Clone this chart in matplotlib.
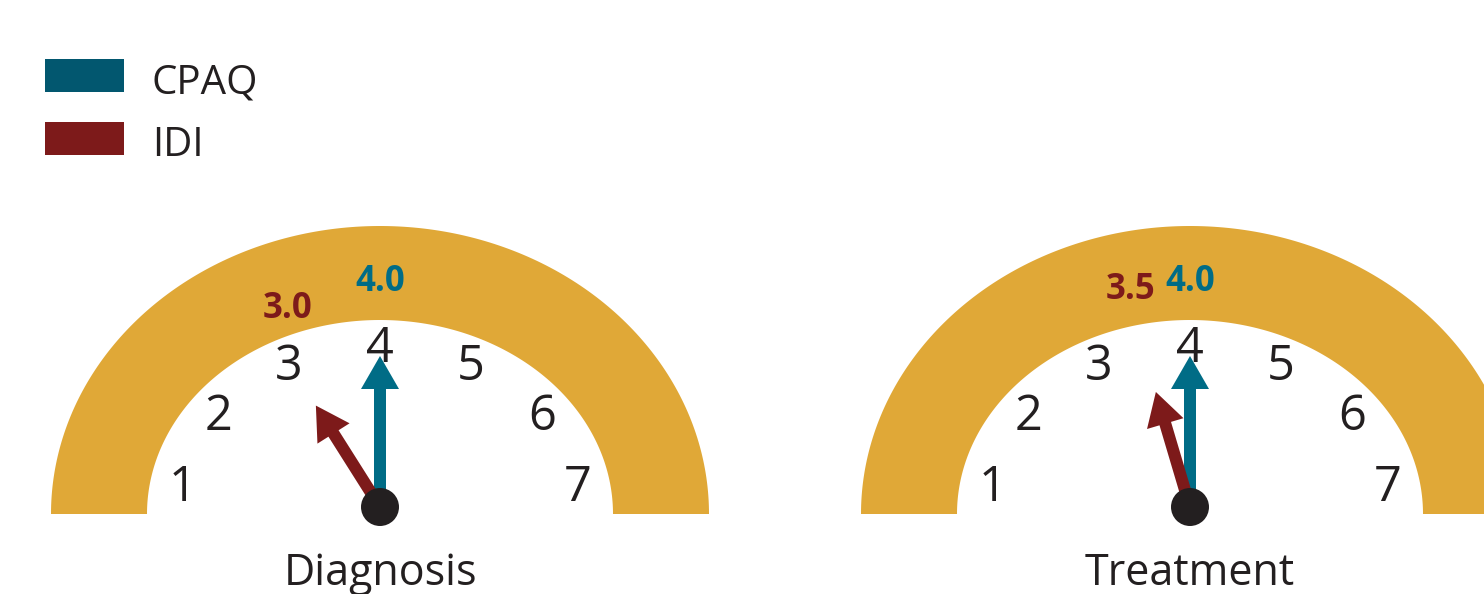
import numpy as np
import matplotlib
matplotlib.use('Agg')
import matplotlib.pyplot as plt
from matplotlib.patches import Polygon, Circle, FancyArrow, Rectangle

# data
stages = ['Diagnosis', 'Treatment']
cpaq = [4.0, 4.0]
idi = [3.0, 3.5]
scale_ticks = [1, 2, 3, 4, 5, 6, 7]

plt.rcParams['font.family'] = ['Open Sans', 'DejaVu Sans']

gold = '#E0A837'
teal_dark = '#02576F'
teal = '#006C86'
red = '#7D1A1A'
ink = '#231F20'

W, H = 1484, 594
fig = plt.figure(figsize=(W / 100, H / 100), dpi=100)
ax = fig.add_axes([0, 0, 1, 1])
ax.set_xlim(0, W)
ax.set_ylim(H, 0)
ax.axis('off')


def angle_of(v):
    # degrees measured from the left end of the dial
    return np.radians(9 + 27 * (v - 1))


def dial_point(cx, cy, v, rx, ry):
    a = angle_of(v)
    return cx - rx * np.cos(a), cy - ry * np.sin(a)


def draw_gauge(cx, name, v_cpaq, v_idi):
    base = 514
    t = np.linspace(0, np.pi, 200)
    outer = np.column_stack([cx + 329 * np.cos(t), base - 288 * np.sin(t)])
    inner = np.column_stack([cx + 233 * np.cos(t[::-1]), base - 194 * np.sin(t[::-1])])
    ax.add_patch(Polygon(np.vstack([outer, inner]), closed=True, color=gold, lw=0))

    for v in scale_ticks:
        x, y = dial_point(cx, base, v, 200, 165)
        ax.text(x, y, str(v), fontsize=35, color=ink, ha='center', va='center')

    # needles
    hub_y = 507
    for v, length, col in [(v_cpaq, 151, teal), (v_idi, 120, red)]:
        px, py = dial_point(cx, base, v, 195, 165)
        d = np.array([px - cx, py - hub_y])
        d = d / np.hypot(*d) * length
        ax.add_patch(FancyArrow(cx, hub_y, d[0], d[1], width=12, head_width=38,
                                head_length=33, length_includes_head=True,
                                color=col, lw=0))
    ax.add_patch(Circle((cx, hub_y), 19, color=ink, lw=0, zorder=5))

    # value labels in the band (IDI label sits to the left of its point)
    x, y = dial_point(cx, base, v_cpaq, 212, 232)
    ax.text(x, y, f'{v_cpaq:.1f}', fontsize=25, fontweight='bold', color=teal,
            ha='center', va='center')
    x, y = dial_point(cx, base, v_idi, 148, 230)
    ax.text(x, y, f'{v_idi:.1f}', fontsize=25, fontweight='bold', color=red,
            ha='right', va='center')

    ax.text(cx, 574, name, fontsize=31, color=ink, ha='center', va='center')


for i, name in enumerate(stages):
    draw_gauge(380 + 810 * i, name, cpaq[i], idi[i])

# legend
for y, col, lab in [(59, teal_dark, 'CPAQ'), (122, red, 'IDI')]:
    ax.add_patch(Rectangle((45, y), 79, 33, color=col, lw=0))
    ax.text(152, y + 34, lab, fontsize=29, color=ink, ha='left', va='baseline')

fig.savefig('out.png', dpi=100)
